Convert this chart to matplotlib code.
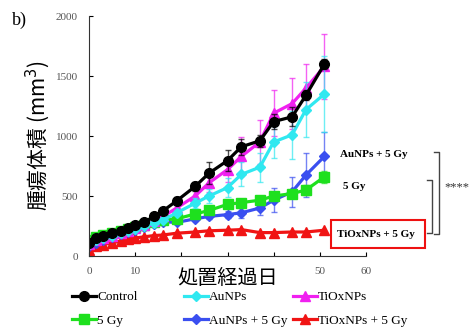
import numpy as np
import matplotlib.pyplot as plt
from matplotlib.patches import Rectangle
from matplotlib.lines import Line2D

# days after treatment
days = [0, 1.5, 3, 5, 7, 8.5, 10, 12, 14, 16, 19, 23, 26, 30, 33, 37, 40, 44, 47, 51]

control = [110, 150, 170, 190, 210, 230, 255, 280, 330, 375, 460, 580, 690, 795, 910, 960, 1120, 1160, 1340, 1600]
control_err = [0, 0, 0, 0, 0, 0, 10, 10, 15, 20, 30, 40, 90, 90, 65, 50, 60, 80, 40, 40]

aunps = [100, 130, 150, 170, 190, 205, 225, 250, 275, 300, 360, 440, 500, 570, 680, 740, 950, 1010, 1220, 1350]
aunps_err = [0, 0, 0, 0, 0, 0, 0, 0, 0, 0, 20, 40, 60, 80, 100, 120, 130, 200, 230, 320]

tiox = [100, 130, 150, 170, 190, 210, 230, 260, 290, 330, 400, 500, 610, 720, 830, 950, 1190, 1270, 1400, 1580]
tiox_err = [0, 0, 0, 0, 0, 0, 0, 0, 0, 0, 30, 50, 80, 100, 160, 180, 190, 210, 200, 270]

gy5 = [130, 155, 175, 195, 210, 225, 240, 260, 280, 300, 310, 350, 380, 430, 445, 465, 500, 520, 550, 660]
gy5_err = [0, 0, 0, 0, 0, 0, 0, 0, 0, 0, 20, 20, 20, 30, 30, 30, 30, 30, 40, 50]

au5 = [80, 110, 135, 160, 185, 200, 220, 245, 270, 285, 280, 310, 330, 345, 360, 400, 465, 535, 675, 830]
au5_err = [0, 0, 0, 0, 0, 0, 0, 0, 0, 0, 0, 0, 20, 30, 40, 60, 100, 125, 180, 200]

tiox5 = [50, 80, 95, 110, 125, 140, 150, 160, 170, 175, 190, 200, 210, 215, 220, 195, 195, 200, 200, 215]

serif = 'Liberation Serif'
jp = ['Noto Sans CJK JP', 'DejaVu Sans']

fig = plt.figure(figsize=(4.73, 3.31), dpi=100)
ax = fig.add_axes([89/473, 1-256/331, 277/473, 240/331])

series = [
    ("Control", control, control_err, 'black', 'o', 7),
    ("AuNPs", aunps, aunps_err, '#30e8f0', 'D', 5),
    ("TiOxNPs", tiox, tiox_err, '#f020f0', '^', 6.5),
    ("5 Gy", gy5, gy5_err, '#1ee01e', 's', 6.5),
    ("AuNPs + 5 Gy", au5, au5_err, '#3a4ff0', 'D', 5),
    ("TiOxNPs + 5 Gy", tiox5, None, '#f01414', '^', 7),
]

handles = {}
for name, vals, err, col, mk, ms in reversed(series):
    if err is not None:
        ax.errorbar(days, vals, yerr=err, fmt='none', ecolor=col, alpha=0.7,
                    elinewidth=1, capsize=2)
    ln, = ax.plot(days, vals, color=col, marker=mk, markersize=ms, lw=2.3)
    handles[name] = ln

ax.set_xlim(0, 60)
ax.set_ylim(0, 2000)
ax.set_xticks([0, 10, 20, 30, 40, 50, 60])
ax.set_xticklabels(['0', '10', '', '', '', '50', '60'])
ax.set_yticks([0, 500, 1000, 1500, 2000])
ax.tick_params(direction='in', length=3, labelsize=8, labelcolor='#555555', pad=8)
for lab in ax.get_xticklabels() + ax.get_yticklabels():
    lab.set_family(serif)
ax.spines['top'].set_visible(False)
ax.spines['right'].set_visible(False)
ax.spines['left'].set_color('#333333')
ax.spines['bottom'].set_color('#333333')

ax.set_xlabel('処置経過日', family=jp, fontsize=14.5, labelpad=-6)
ax.set_ylabel('腫瘍体積 (mm$^3$)', family=jp, fontsize=15, labelpad=3)

fig.text(12/473, 1-20/331, 'b)', family=serif, fontsize=13, va='center')

# annotations on the right
ax.text(54.4, 842, 'AuNPs + 5 Gy', family=serif, fontsize=8, fontweight='bold', va='center', clip_on=False)
ax.text(55.0, 583, '5 Gy', family=serif, fontsize=8, fontweight='bold', va='center', clip_on=False)
ax.text(53.7, 183, 'TiOxNPs + 5 Gy', family=serif, fontsize=8, fontweight='bold', va='center', clip_on=False)
ax.add_patch(Rectangle((52.4, 67), 20.4, 233, fill=False, edgecolor='#ee1111', lw=1.5, clip_on=False))

tr = fig.transFigure
def fx(p): return p / 473
def fy(p): return 1 - p / 331
for xv, xt, y0, y1 in [(439, 434, 152, 234), (432, 427, 180, 233)]:
    fig.add_artist(Line2D([fx(xt), fx(xv), fx(xv), fx(xt)], [fy(y0), fy(y0), fy(y1), fy(y1)],
                          transform=tr, color='#444444', lw=1))
fig.text(fx(444), fy(187), '****', family=serif, fontsize=9, va='center', color='#333333')

# legend in three columns
cols = [["Control", "5 Gy"], ["AuNPs", "AuNPs + 5 Gy"], ["TiOxNPs", "TiOxNPs + 5 Gy"]]
starts = [72, 184, 293]
for names, x0 in zip(cols, starts):
    fig.legend([handles[n] for n in names], names, loc='upper left',
               bbox_to_anchor=(fx(x0), fy(291)), frameon=False,
               prop={'family': serif, 'size': 9.5}, handlelength=1.8,
               handletextpad=0.1, labelspacing=0.85, borderpad=0, borderaxespad=0)

plt.savefig('out.png', dpi=100)
